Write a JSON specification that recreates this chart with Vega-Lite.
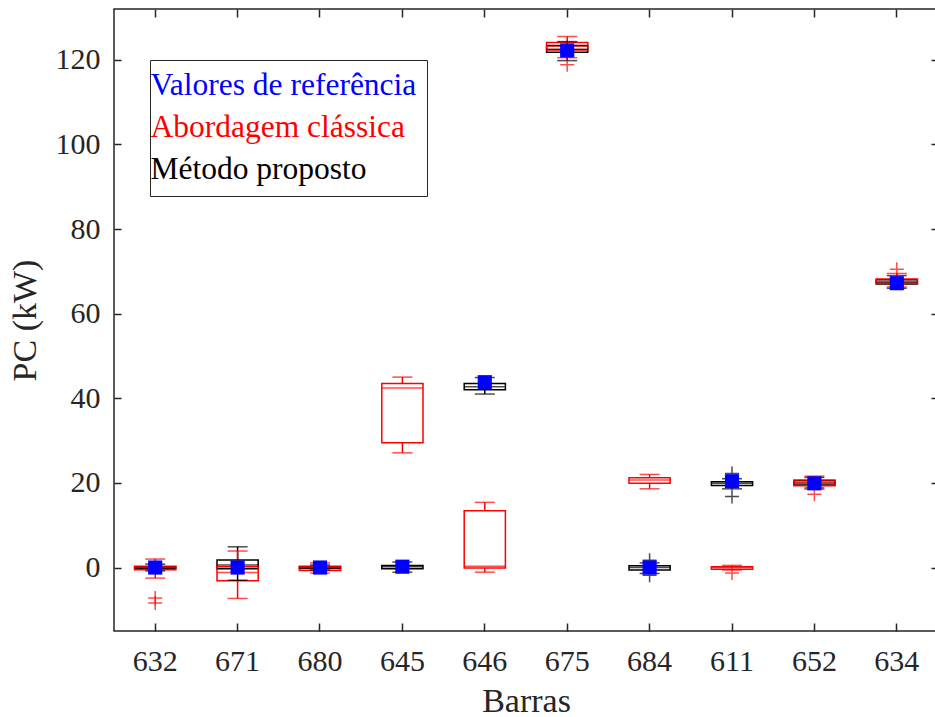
{
  "$schema": "https://vega.github.io/schema/vega-lite/v6.json",
  "width": 824,
  "height": 622,
  "autosize": {"type": "none"},
  "padding": {"left": 114, "top": 9, "right": 0, "bottom": 86},
  "background": "white",
  "config": {
    "view": {"stroke": "#262626", "strokeWidth": 1.5},
    "font": "Liberation Serif",
    "axis": {"domain": false, "ticks": false, "grid": true, "zindex": 1, "gridColor": "#262626", "gridWidth": 1.5, "gridOpacity": 1, "labelColor": "#262626", "titleColor": "#262626", "labelFont": "Liberation Serif", "titleFont": "Liberation Serif", "titleFontWeight": "normal", "labelFontSize": 30, "titleFontSize": 34}
  },
  "datasets": {
    "boxes": [
      {"bus": "632", "serie": "Método proposto", "lo": -0.8, "q1": -0.2, "med": 0.0, "q3": 0.2, "hi": 0.8},
      {"bus": "671", "serie": "Método proposto", "lo": -3.0, "q1": -0.3, "med": 0.6, "q3": 1.8, "hi": 4.9},
      {"bus": "680", "serie": "Método proposto", "lo": -0.6, "q1": -0.2, "med": 0.0, "q3": 0.2, "hi": 0.6},
      {"bus": "645", "serie": "Método proposto", "lo": -1.1, "q1": -0.3, "med": 0.2, "q3": 0.5, "hi": 1.3},
      {"bus": "646", "serie": "Método proposto", "lo": 41.0, "q1": 42.0, "med": 42.7, "q3": 43.5, "hi": 44.9},
      {"bus": "675", "serie": "Método proposto", "lo": 119.8, "q1": 121.8, "med": 122.5, "q3": 123.4, "hi": 124.3},
      {"bus": "684", "serie": "Método proposto", "lo": -1.4, "q1": -0.6, "med": 0.0, "q3": 0.4, "hi": 1.1},
      {"bus": "611", "serie": "Método proposto", "lo": 18.6, "q1": 19.4, "med": 19.9, "q3": 20.3, "hi": 21.0},
      {"bus": "652", "serie": "Método proposto", "lo": 18.8, "q1": 19.5, "med": 20.0, "q3": 20.5, "hi": 21.3},
      {"bus": "634", "serie": "Método proposto", "lo": 66.0, "q1": 67.0, "med": 67.4, "q3": 68.0, "hi": 69.0},
      {"bus": "632", "serie": "Abordagem clássica", "lo": -2.5, "q1": -0.5, "med": 0.0, "q3": 0.3, "hi": 2.0},
      {"bus": "671", "serie": "Abordagem clássica", "lo": -7.3, "q1": -3.1, "med": -1.2, "q3": 0.2, "hi": 3.9},
      {"bus": "680", "serie": "Abordagem clássica", "lo": -1.3, "q1": -0.7, "med": 0.0, "q3": 0.3, "hi": 1.1},
      {"bus": "645", "serie": "Abordagem clássica", "lo": 27.1, "q1": 29.5, "med": 42.4, "q3": 43.5, "hi": 45.0},
      {"bus": "646", "serie": "Abordagem clássica", "lo": -1.1, "q1": -0.1, "med": 0.3, "q3": 13.4, "hi": 15.4},
      {"bus": "675", "serie": "Abordagem clássica", "lo": 120.5, "q1": 122.3, "med": 123.2, "q3": 124.1, "hi": 125.5},
      {"bus": "684", "serie": "Abordagem clássica", "lo": 18.6, "q1": 19.9, "med": 20.7, "q3": 21.2, "hi": 22.0},
      {"bus": "611", "serie": "Abordagem clássica", "lo": -0.6, "q1": -0.4, "med": 0.0, "q3": 0.2, "hi": 0.5},
      {"bus": "652", "serie": "Abordagem clássica", "lo": 18.5, "q1": 19.3, "med": 20.0, "q3": 20.7, "hi": 21.6},
      {"bus": "634", "serie": "Abordagem clássica", "lo": 66.3, "q1": 67.1, "med": 67.6, "q3": 68.2, "hi": 69.5}
    ],
    "outliers": [
      {"bus": "684", "serie": "Método proposto", "value": 1.7},
      {"bus": "684", "serie": "Método proposto", "value": -1.8},
      {"bus": "611", "serie": "Método proposto", "value": 22.2},
      {"bus": "611", "serie": "Método proposto", "value": 16.8},
      {"bus": "632", "serie": "Abordagem clássica", "value": -7.2},
      {"bus": "632", "serie": "Abordagem clássica", "value": -8.4},
      {"bus": "675", "serie": "Abordagem clássica", "value": 118.8},
      {"bus": "611", "serie": "Abordagem clássica", "value": -1.3},
      {"bus": "652", "serie": "Abordagem clássica", "value": 17.3},
      {"bus": "634", "serie": "Abordagem clássica", "value": 70.5}
    ],
    "reference": [
      {"bus": "632", "serie": "Valores de referência", "value": 0.0},
      {"bus": "671", "serie": "Valores de referência", "value": 0.0},
      {"bus": "680", "serie": "Valores de referência", "value": 0.0},
      {"bus": "645", "serie": "Valores de referência", "value": 0.2},
      {"bus": "646", "serie": "Valores de referência", "value": 43.8},
      {"bus": "675", "serie": "Valores de referência", "value": 122.2},
      {"bus": "684", "serie": "Valores de referência", "value": 0.0},
      {"bus": "611", "serie": "Valores de referência", "value": 20.4},
      {"bus": "652", "serie": "Valores de referência", "value": 19.9},
      {"bus": "634", "serie": "Valores de referência", "value": 67.2}
    ]
  },
  "encoding": {
    "x": {
      "field": "bus", "type": "nominal",
      "sort": ["632", "671", "680", "645", "646", "675", "684", "611", "652", "634"],
      "scale": {"type": "band", "paddingInner": 0.5, "paddingOuter": 0.25},
      "axis": {"title": "Barras", "labelAngle": 0, "gridDash": [8, 606], "labelPadding": 15, "titlePadding": 8}
    },
    "color": {
      "field": "serie", "type": "nominal",
      "scale": {"domain": ["Valores de referência", "Abordagem clássica", "Método proposto"], "range": ["#0000ff", "#ff0000", "#000000"]},
      "legend": {
        "title": null, "orient": "none", "legendX": 36, "legendY": 51,
        "labelFont": "Liberation Serif", "labelFontSize": 31.5, "labelLimit": 500,
        "symbolSize": 0, "symbolOpacity": 0, "symbolStrokeWidth": 0, "symbolOffset": 0, "labelOffset": -41,
        "strokeColor": "#262626", "padding": 10, "rowPadding": 9, "fillColor": "white",
        "encode": {"labels": {"update": {"fill": {"scale": "color", "field": "value"}}}}
      }
    }
  },
  "layer": [
    {
      "data": {"name": "boxes"},
      "mark": {"type": "rule", "strokeWidth": 1.5},
      "encoding": {
        "y": {"field": "lo", "type": "quantitative", "scale": {"domain": [-15, 132], "nice": false, "zero": false},
          "axis": {"title": "PC (kW)", "values": [0, 20, 40, 60, 80, 100, 120], "gridDash": [7, 810], "labelPadding": 14, "titlePadding": 13}},
        "y2": {"field": "q1"}
      }
    },
    {
      "data": {"name": "boxes"},
      "mark": {"type": "rule", "strokeWidth": 1.5},
      "encoding": {"y": {"field": "q3", "type": "quantitative"}, "y2": {"field": "hi"}}
    },
    {
      "data": {"name": "boxes"},
      "mark": {"type": "bar", "filled": false, "strokeWidth": 1.5},
      "encoding": {"y": {"field": "q1", "type": "quantitative"}, "y2": {"field": "q3"}}
    },
    {
      "data": {"name": "boxes"},
      "mark": {"type": "tick", "size": 41, "thickness": 1.5, "orient": "horizontal"},
      "encoding": {"y": {"field": "med", "type": "quantitative"}}
    },
    {
      "data": {"name": "boxes"},
      "mark": {"type": "tick", "size": 20, "thickness": 1.5, "orient": "horizontal"},
      "encoding": {"y": {"field": "lo", "type": "quantitative"}}
    },
    {
      "data": {"name": "boxes"},
      "mark": {"type": "tick", "size": 20, "thickness": 1.5, "orient": "horizontal"},
      "encoding": {"y": {"field": "hi", "type": "quantitative"}}
    },
    {
      "data": {"name": "outliers"},
      "mark": {"type": "point", "shape": "M-1,0H1M0,-1V1", "filled": false, "size": 196, "strokeWidth": 1.5},
      "encoding": {"y": {"field": "value", "type": "quantitative"}}
    },
    {
      "data": {"name": "reference"},
      "mark": {"type": "point", "shape": "square", "filled": true, "size": 200, "opacity": 1},
      "encoding": {"y": {"field": "value", "type": "quantitative"}}
    }
  ]
}
